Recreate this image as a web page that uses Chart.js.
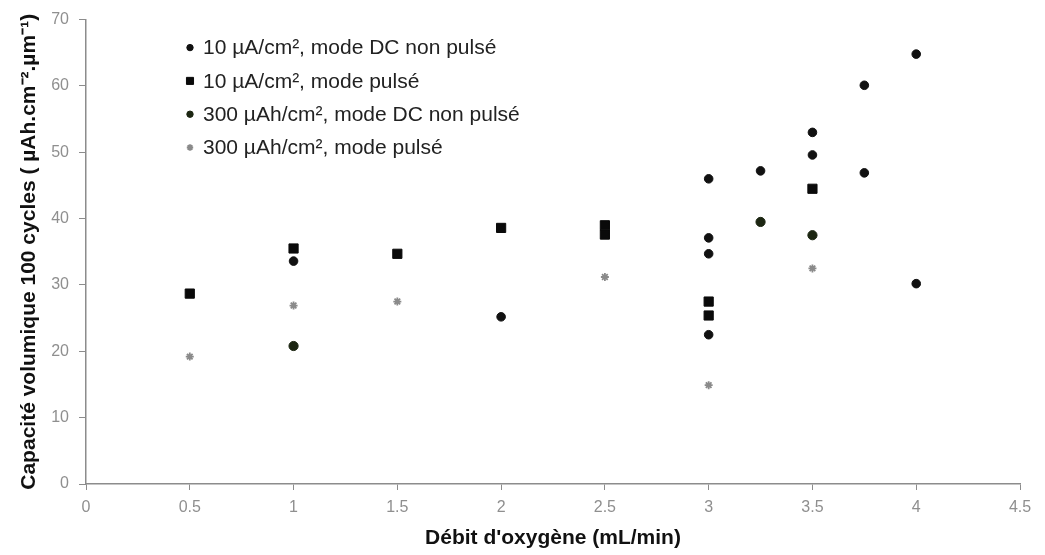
<!DOCTYPE html>
<html>
<head>
<meta charset="utf-8">
<script src="https://cdn.jsdelivr.net/npm/chart.js@4/dist/chart.umd.min.js"></script>
<style>
  html, body { margin: 0; padding: 0; background: #fff; }
  #wrap { width: 1045px; height: 555px; position: relative; }
</style>
</head>
<body>
<div id="wrap"><canvas id="scatter"></canvas></div>
<script>
/*
  Capacité volumique vs débit d'oxygène
*/

const seriesLabels = [
  '10 µA/cm², mode DC non pulsé',
  '10 µA/cm², mode pulsé',
  '300 µAh/cm², mode DC non pulsé',
  '300 µAh/cm², mode pulsé'
];

// 10 µA/cm², DC non pulsé
const dc10X = [1, 2, 3, 3, 3, 3, 3.25, 3.5, 3.5, 3.75, 3.75, 4, 4];
const dc10Y = [33.6, 25.2, 46.0, 37.1, 34.7, 22.5, 47.2, 53.0, 49.6, 60.1, 46.9, 64.8, 30.2];

// 10 µA/cm², pulsé
const pulse10X = [0.5, 1, 1.5, 2, 2.5, 2.5, 3, 3, 3.5];
const pulse10Y = [28.7, 35.5, 34.7, 38.6, 39.0, 37.6, 27.5, 25.4, 44.5];

// 300 µAh/cm², DC non pulsé
const dc300X = [1, 3.25, 3.5];
const dc300Y = [20.8, 39.5, 37.5];

// 300 µAh/cm², pulsé
const pulse300X = [0.5, 1, 1.5, 2.5, 3, 3.5];
const pulse300Y = [19.2, 26.9, 27.5, 31.2, 14.9, 32.5];

const xTicks = [0, 0.5, 1, 1.5, 2, 2.5, 3, 3.5, 4, 4.5];
const yTicks = [0, 10, 20, 30, 40, 50, 60, 70];

function toPoints(xs, ys) {
  return xs.map((x, i) => ({ x: x, y: ys[i] }));
}

const FONT = '"Liberation Sans", Arial, sans-serif';
const AXIS_GREY = '#8c8c8c';

// legend drawn inside the plot, top-left
const innerLegend = {
  id: 'innerLegend',
  afterDraw(chart) {
    const ctx = chart.ctx;
    const area = chart.chartArea;
    const x0 = area.left + 104;
    const y0 = area.top + 28;
    const gap = 33.3;
    ctx.save();
    chart.data.datasets.forEach((ds, i) => {
      const y = y0 + i * gap;
      ctx.fillStyle = ds.backgroundColor;
      ctx.strokeStyle = ds.borderColor;
      ctx.lineWidth = ds.borderWidth || 1;
      Chart.helpers.drawPoint(ctx, {
        pointStyle: ds.pointStyle,
        radius: ds.legendRadius,
        borderWidth: ds.borderWidth || 1
      }, x0, y);
      ctx.fillStyle = '#222';
      ctx.font = '21px ' + FONT;
      ctx.textBaseline = 'middle';
      ctx.fillText(ds.label, x0 + 13, y + 1);
    });
    ctx.restore();
  }
};

const ctx = document.getElementById('scatter');

new Chart(ctx, {
  type: 'scatter',
  data: {
    datasets: [
      {
        label: seriesLabels[0],
        data: toPoints(dc10X, dc10Y),
        pointStyle: 'circle',
        pointRadius: 4.3,
        legendRadius: 3.2,
        backgroundColor: '#111',
        borderColor: '#111',
        borderWidth: 1
      },
      {
        label: seriesLabels[1],
        data: toPoints(pulse10X, pulse10Y),
        pointStyle: 'rect',
        pointRadius: 6.5,
        legendRadius: 5,
        backgroundColor: '#0a0a0a',
        borderColor: '#0a0a0a',
        borderWidth: 1
      },
      {
        label: seriesLabels[2],
        data: toPoints(dc300X, dc300Y),
        pointStyle: 'circle',
        pointRadius: 4.6,
        legendRadius: 3.2,
        backgroundColor: '#1c2612',
        borderColor: '#1c2612',
        borderWidth: 1
      },
      {
        label: seriesLabels[3],
        data: toPoints(pulse300X, pulse300Y),
        pointStyle: 'star',
        pointRadius: 4,
        legendRadius: 3.2,
        backgroundColor: '#8a8a8a',
        borderColor: '#8a8a8a',
        borderWidth: 1.8
      }
    ]
  },
  options: {
    responsive: true,
    maintainAspectRatio: false,
    animation: false,
    layout: { padding: { top: 15, right: 25, left: 0, bottom: 0 } },
    plugins: {
      legend: { display: false },
      tooltip: { enabled: false }
    },
    scales: {
      x: {
        type: 'linear',
        min: 0,
        max: 4.5,
        afterBuildTicks: axis => { axis.ticks = xTicks.map(v => ({ value: v })); },
        afterFit: axis => { axis.height = 71; },
        grid: { drawOnChartArea: false, drawTicks: true, tickLength: 6, color: AXIS_GREY },
        border: { display: true, color: AXIS_GREY, width: 1.5 },
        ticks: {
          color: '#8f8f8f',
          font: { family: FONT, size: 16 },
          padding: 8,
          callback: v => String(v)
        },
        title: {
          display: true,
          text: "Débit d'oxygène (mL/min)",
          color: '#111',
          font: { family: FONT, size: 21, weight: 'bold' },
          padding: { top: 0, bottom: 4 }
        }
      },
      y: {
        type: 'linear',
        min: 0,
        max: 70,
        afterBuildTicks: axis => { axis.ticks = yTicks.map(v => ({ value: v })); },
        afterFit: axis => { axis.width = 86; },
        grid: { drawOnChartArea: false, drawTicks: true, tickLength: 7, color: AXIS_GREY },
        border: { display: true, color: AXIS_GREY, width: 1.5 },
        ticks: {
          color: '#8f8f8f',
          font: { family: FONT, size: 16 },
          padding: 10
        },
        title: {
          display: true,
          text: 'Capacité volumique 100 cycles ( µAh.cm⁻².µm⁻¹)',
          color: '#111',
          font: { family: FONT, size: 21, weight: 'bold' },
          padding: { top: 17, bottom: 0 }
        }
      }
    }
  },
  plugins: [innerLegend]
});
</script>
</body>
</html>
